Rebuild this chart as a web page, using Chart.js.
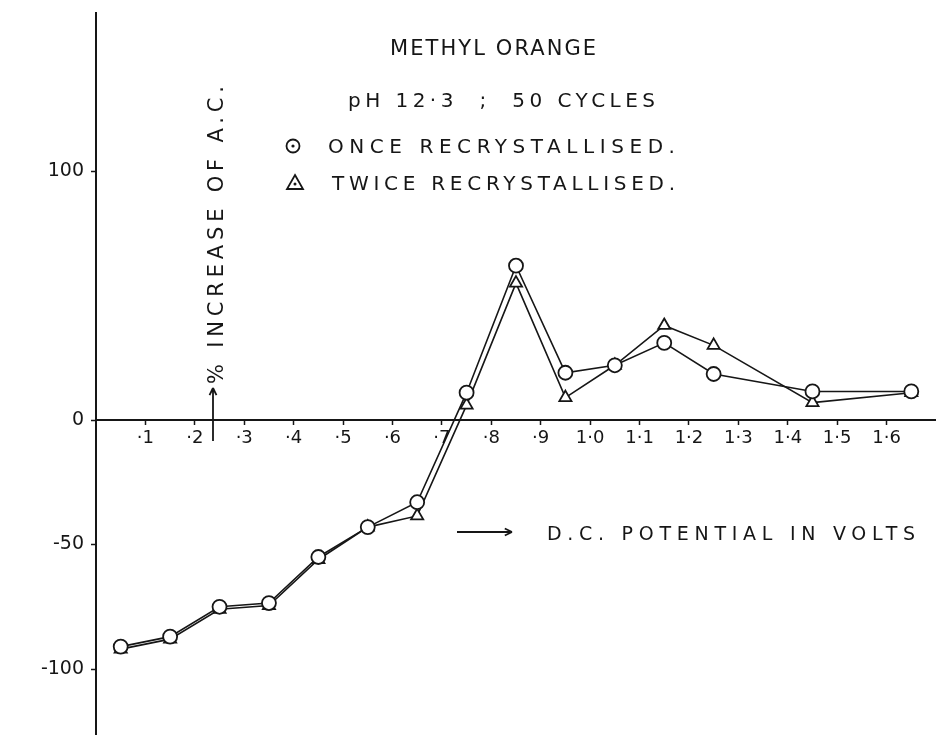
<!DOCTYPE html>
<html>
<head>
<meta charset="utf-8">
<title>Methyl orange</title>
<script src="https://cdn.jsdelivr.net/npm/chart.js@4.4.1/dist/chart.umd.min.js"></script>
<style>
  html, body { margin: 0; padding: 0; background: #fff; }
  #wrap { width: 936px; height: 735px; }
</style>
</head>
<body>
<div id="wrap"><canvas id="chart" width="936" height="735"></canvas></div>
<script>
// D.C. potential (volts) and % increase of A.C.
const volts = [0.05, 0.15, 0.25, 0.35, 0.45, 0.55, 0.65, 0.75, 0.85, 0.95, 1.05, 1.15, 1.25, 1.45, 1.65];
const onceRecryst = [-91, -87, -75, -73.5, -55, -43, -33, 11, 62, 19, 22, 31, 18.5, 11.5, 11.5];
const twiceRecryst = [-92, -88, -76, -74.5, -56, -43, -38.5, 6, 55, 9, 22, 38, 30, 7, 11];

const xTickValues = [0.1, 0.2, 0.3, 0.4, 0.5, 0.6, 0.7, 0.8, 0.9, 1.0, 1.1, 1.2, 1.3, 1.4, 1.5, 1.6];
const xTickLabels = ['·1', '·2', '·3', '·4', '·5', '·6', '·7', '·8', '·9', '1·0', '1·1', '1·2', '1·3', '1·4', '1·5', '1·6'];
const yTickValues = [-100, -50, 0, 100];
const yTickLabels = ['-100', '-50', '0', '100'];

const INK = '#161616';
const FONT = '"DejaVu Sans", "Liberation Sans", sans-serif';

function toPoints(ys) {
    return volts.map((v, i) => ({ x: v, y: ys[i] }));
}

// text stretched to a given width, like the hand lettering
function spaced(ctx, text, x, y, width) {
    ctx.letterSpacing = '0px';
    const natural = ctx.measureText(text).width;
    const gap = (width - natural) / (text.length - 1);
    ctx.letterSpacing = gap.toFixed(2) + 'px';
    ctx.textAlign = 'left';
    ctx.fillText(text, x, y);
    ctx.letterSpacing = '0px';
}

function arrow(ctx, x1, y1, x2, y2) {
    const a = Math.atan2(y2 - y1, x2 - x1);
    ctx.beginPath();
    ctx.moveTo(x1, y1);
    ctx.lineTo(x2, y2);
    ctx.moveTo(x2, y2);
    ctx.lineTo(x2 - 8 * Math.cos(a - 0.45), y2 - 8 * Math.sin(a - 0.45));
    ctx.moveTo(x2, y2);
    ctx.lineTo(x2 - 8 * Math.cos(a + 0.45), y2 - 8 * Math.sin(a + 0.45));
    ctx.stroke();
}

// keep the plot area flush with the canvas edges
function noPadding(scale) {
    scale.paddingTop = 0;
    scale.paddingBottom = 0;
    scale.paddingLeft = 0;
    scale.paddingRight = 0;
}

const notes = {
    id: 'notes',
    afterDraw(chart) {
        const ctx = chart.ctx;
        ctx.save();
        ctx.fillStyle = INK;
        ctx.strokeStyle = INK;
        ctx.lineWidth = 1.8;
        ctx.textBaseline = 'alphabetic';

        ctx.font = '21px ' + FONT;
        spaced(ctx, 'METHYL ORANGE', 390, 55, 206);
        ctx.font = '20px ' + FONT;
        spaced(ctx, 'pH 12·3  ;  50 CYCLES', 348, 107, 307);
        spaced(ctx, 'ONCE RECRYSTALLISED.', 328, 153, 347);
        spaced(ctx, 'TWICE RECRYSTALLISED.', 332, 190, 343);

        // legend keys
        ctx.beginPath();
        ctx.arc(293, 146, 6.5, 0, Math.PI * 2);
        ctx.stroke();
        ctx.beginPath();
        ctx.arc(293, 146, 1.6, 0, Math.PI * 2);
        ctx.fill();
        ctx.beginPath();
        ctx.moveTo(295, 175);
        ctx.lineTo(303, 189);
        ctx.lineTo(287, 189);
        ctx.closePath();
        ctx.stroke();
        ctx.beginPath();
        ctx.arc(295, 184, 1.5, 0, Math.PI * 2);
        ctx.fill();

        // y title, written upwards
        ctx.save();
        ctx.translate(223, 384);
        ctx.rotate(-Math.PI / 2);
        ctx.font = '21px ' + FONT;
        spaced(ctx, '% INCREASE OF A.C.', 0, 0, 298);
        ctx.restore();
        arrow(ctx, 213, 441, 213, 388);

        // x title
        arrow(ctx, 457, 532, 512, 532);
        ctx.font = '19px ' + FONT;
        spaced(ctx, 'D.C. POTENTIAL IN VOLTS', 547, 540, 368);
        ctx.restore();
    }
};

const ctx = document.getElementById('chart').getContext('2d');
const chart = new Chart(ctx, {
    type: 'line',
    data: {
        datasets: [{
            label: 'ONCE RECRYSTALLISED.',
            data: toPoints(onceRecryst),
            borderColor: INK,
            borderWidth: 1.6,
            pointStyle: 'circle',
            pointRadius: 7,
            pointBorderWidth: 1.8,
            pointBackgroundColor: '#fff',
            pointBorderColor: INK,
            tension: 0
        }, {
            label: 'TWICE RECRYSTALLISED.',
            data: toPoints(twiceRecryst),
            borderColor: INK,
            borderWidth: 1.6,
            pointStyle: 'triangle',
            pointRadius: 7,
            pointBorderWidth: 1.8,
            pointBackgroundColor: '#fff',
            pointBorderColor: INK,
            tension: 0
        }]
    },
    options: {
        responsive: false,
        animation: false,
        devicePixelRatio: 1,
        layout: { autoPadding: false, padding: { left: 0, right: 0, top: 13, bottom: 0 } },
        plugins: {
            legend: { display: false },
            title: { display: false },
            tooltip: { enabled: false }
        },
        scales: {
            x: {
                type: 'linear',
                position: { y: 0 },
                min: 0,
                max: 1.70,
                afterFit: (scale) => { scale.height = 0; noPadding(scale); },
                afterBuildTicks: (scale) => { scale.ticks = xTickValues.map(v => ({ value: v })); },
                ticks: {
                    autoSkip: false,
                    maxRotation: 0,
                    padding: 3,
                    color: INK,
                    font: { family: FONT, size: 18 },
                    callback: (v, i) => xTickLabels[i]
                },
                grid: { drawOnChartArea: false, drawTicks: true, tickLength: 4, tickWidth: 1.5, color: INK },
                border: { display: true, color: INK, width: 2 }
            },
            y: {
                type: 'linear',
                position: 'left',
                min: -126.5,
                max: 163.5,
                afterFit: (scale) => { scale.width = 96; noPadding(scale); },
                afterBuildTicks: (scale) => { scale.ticks = yTickValues.map(v => ({ value: v })); },
                ticks: {
                    autoSkip: false,
                    padding: 7,
                    color: INK,
                    font: { family: FONT, size: 19 },
                    callback: (v, i) => yTickLabels[i]
                },
                grid: { drawOnChartArea: false, drawTicks: true, tickLength: 5, tickWidth: 1.5, color: INK },
                border: { display: true, color: INK, width: 2 }
            }
        }
    },
    plugins: [notes]
});
</script>
</body>
</html>
